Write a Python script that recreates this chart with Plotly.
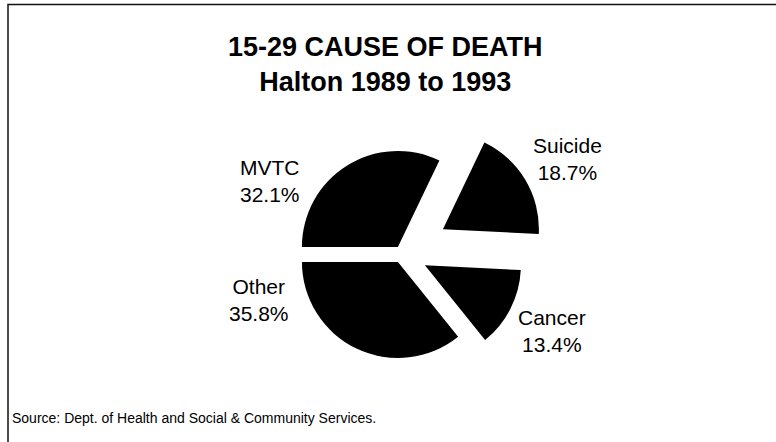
import plotly.graph_objects as go

# Causes of death, ages 15-29, Halton 1989-1993
causes = ["Suicide", "Cancer", "Other", "MVTC"]
shares = [18.7, 13.4, 35.8, 32.1]

# exploded-wedge offsets (fraction of radius) for each cause
pulls = [0.496, 0.268, 0.098, 0.080]

# label centres in pixels (x from left, y from top)
label_xy = [(567.5, 159), (551.5, 331), (259, 300), (270, 180.5)]

W, H = 776, 442


def px(x):
    return x / W


def py(y):
    return 1 - y / H


fig = go.Figure(
    go.Pie(
        labels=causes,
        values=shares,
        sort=False,
        direction="clockwise",
        rotation=25.6,
        pull=pulls,
        marker=dict(colors=["#000000"] * len(causes), line=dict(width=0)),
        textinfo="none",
        hoverinfo="label+percent",
        showlegend=False,
        domain=dict(x=[258.4 / W, 545.6 / W], y=[py(397.1), py(109.9)]),
    )
)

annotations = []
for name, val, (lx, ly) in zip(causes, shares, label_xy):
    annotations.append(
        dict(
            x=px(lx), y=py(ly), xref="paper", yref="paper",
            text=f"{name}<br>{val}%", showarrow=False,
            xanchor="center", yanchor="middle", align="center",
            font=dict(family="Liberation Sans, Arial", size=21, color="#000"),
        )
    )

annotations.append(
    dict(
        x=px(385), y=py(64), xref="paper", yref="paper",
        text="<b>15-29 CAUSE OF DEATH</b><br><b>Halton 1989 to 1993</b>",
        showarrow=False, xanchor="center", yanchor="middle", align="center",
        font=dict(family="Liberation Sans, Arial", size=27, color="#000"),
    )
)
annotations.append(
    dict(
        x=px(10), y=py(418), xref="paper", yref="paper",
        text="Source: Dept. of Health and Social & Community Services.",
        showarrow=False, xanchor="left", yanchor="middle",
        font=dict(family="Liberation Sans, Arial", size=14, color="#000"),
    )
)

fig.update_layout(
    width=W, height=H,
    margin=dict(l=0, r=0, t=0, b=0),
    paper_bgcolor="white",
    annotations=annotations,
    shapes=[
        dict(
            type="path", xref="paper", yref="paper",
            path=f"M {px(8)} {py(442)} L {px(8)} {py(4.5)} L {px(776)} {py(4.5)}",
            line=dict(color="#111", width=1.5),
        )
    ],
)

fig.write_html("out.html")
